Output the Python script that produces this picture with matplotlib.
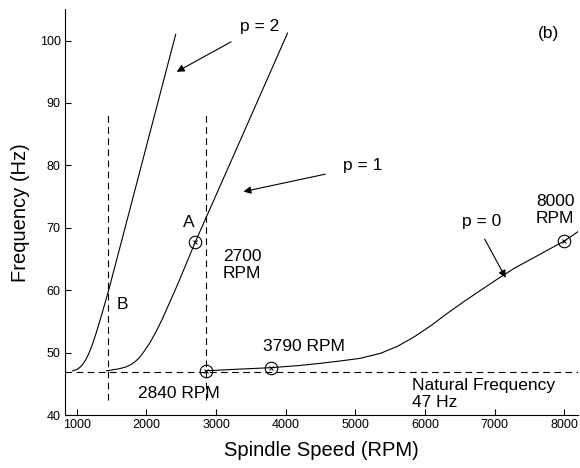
import numpy as np
import matplotlib
matplotlib.use("Agg")
from matplotlib import pyplot as plt

plt.rcParams['font.family'] = ['Liberation Sans', 'DejaVu Sans']

# lobe curves (RPM, Hz)
p2_rpm = [940, 1000, 1050, 1090, 1130, 1170, 1220, 1280, 1360, 1450, 1700, 2000, 2420]
p2_hz = [47.1, 47.3, 47.7, 48.2, 48.9, 49.8, 51.2, 53.2, 56.2, 59.7, 70.3, 83.1, 101.0]

p1_rpm = [1427, 1600, 1700, 1780, 1840, 1890, 1940, 1990, 2050, 2130, 2220, 2300,
          2450, 2700, 3200, 4026]
p1_hz = [47.1, 47.4, 47.7, 48.1, 48.6, 49.1, 49.8, 50.6, 51.6, 53.2, 55.2, 57.2,
         61.0, 67.7, 80.3, 101.2]

p0_rpm = [2850, 3300, 3790, 4200, 4500, 4800, 5072, 5360, 5600, 5839, 6080, 6319,
          6560, 6799, 7040, 7278, 7640, 8000, 8250]
p0_hz = [47.1, 47.35, 47.6, 47.95, 48.3, 48.7, 49.1, 49.9, 51.0, 52.5, 54.3, 56.3,
         58.2, 60.0, 61.8, 63.5, 65.7, 67.9, 69.8]

# marked points
mark_rpm = [2700, 2850, 3790, 8000]
mark_hz = [67.8, 47.1, 47.6, 67.9]

nat_freq = 46.9
vline_rpm = [1450, 2860]
vline_hz = [42.4, 88.2]

fig = plt.figure(figsize=(5.8, 4.68), dpi=100)
ax = fig.add_axes([0.112, 0.113, 0.885, 0.867])

ax.plot(p2_rpm, p2_hz, color='k', lw=0.8)
ax.plot(p1_rpm, p1_hz, color='k', lw=0.8)
ax.plot(p0_rpm, p0_hz, color='k', lw=0.8)

dash = (0, (6, 4))
ax.axhline(nat_freq, color='k', lw=0.8, ls=dash)
for xv in vline_rpm:
    ax.plot([xv, xv], vline_hz, color='k', lw=0.8, ls=dash)

ax.plot(mark_rpm, mark_hz, 'o', ms=9, mfc='none', mec='k', mew=0.8)
ax.plot(mark_rpm, mark_hz, 'x', ms=3.5, mec='k', mew=0.7)

fs = 12.5
ls = 1.15
ax.text(3345, 102.2, 'p = 2', fontsize=fs, va='center')
ax.text(4827, 80, 'p = 1', fontsize=fs, va='center')
ax.text(6525, 71, 'p = 0', fontsize=fs, va='center')
ax.text(7590, 72.9, '8000\nRPM', fontsize=fs, va='center', linespacing=ls)
ax.text(7620, 101.2, '(b)', fontsize=fs, va='center')
ax.text(2525, 70.9, 'A', fontsize=fs, va='center')
ax.text(1575, 57.8, 'B', fontsize=fs, va='center')
ax.text(3100, 64.0, '2700\nRPM', fontsize=fs, va='center', linespacing=ls)
ax.text(3680, 51.0, '3790 RPM', fontsize=fs, va='center')
ax.text(1878, 43.5, '2840 RPM', fontsize=fs, va='center')
ax.text(5820, 43.4, 'Natural Frequency\n47 Hz', fontsize=fs, va='center', linespacing=ls)

arrow = dict(arrowstyle='-|>', color='k', lw=0.8, mutation_scale=11, shrinkA=0, shrinkB=0)
ax.annotate('', xy=(2434, 95.0), xytext=(3216, 99.8), arrowprops=arrow)
ax.annotate('', xy=(3393, 75.8), xytext=(4568, 78.6), arrowprops=arrow)
ax.annotate('', xy=(7158, 62.0), xytext=(6856, 68.2), arrowprops=arrow)

ax.set_xlim(830, 8200)
ax.set_ylim(40, 105)
ax.set_xticks(np.arange(1000, 8001, 1000))
ax.set_yticks(np.arange(40, 101, 10))
ax.tick_params(direction='in', length=4, width=0.8, labelsize=9, pad=3)
for s in ['top', 'right']:
    ax.spines[s].set_visible(False)
for s in ['left', 'bottom']:
    ax.spines[s].set_linewidth(0.8)

ax.set_xlabel('Spindle Speed (RPM)', fontsize=14.5, labelpad=7)
ax.set_ylabel('Frequency (Hz)', fontsize=14.5, labelpad=7)

fig.savefig('out.png', dpi=100)
